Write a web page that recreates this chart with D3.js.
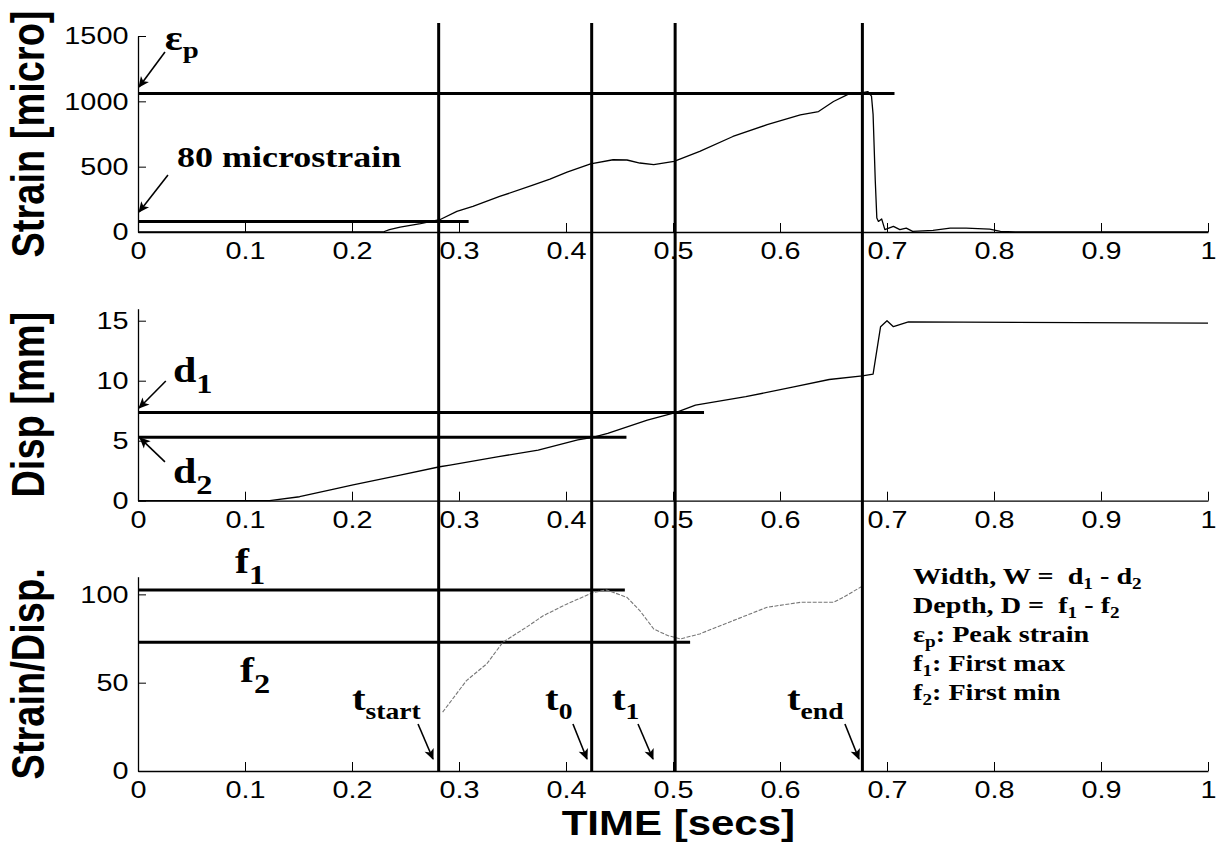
<!DOCTYPE html>
<html>
<head>
<meta charset="utf-8">
<script src="https://cdn.jsdelivr.net/npm/d3@7"></script>
<style>
  body { margin: 0; background: #fff; }
  text { white-space: pre; }
</style>
</head>
<body>
<div id="chart"></div>
<script>
// time axis shared by the three panels
const timeTicks = [0, 0.1, 0.2, 0.3, 0.4, 0.5, 0.6, 0.7, 0.8, 0.9, 1];

// strain gauge trace [micro]
const strainT = [0, 0.229, 0.235, 0.245, 0.264, 0.282, 0.298, 0.313, 0.338, 0.369, 0.385, 0.401, 0.423, 0.444, 0.457, 0.469, 0.482, 0.501, 0.525, 0.556, 0.588, 0.619, 0.636, 0.650, 0.664, 0.675, 0.682, 0.6855, 0.687, 0.689, 0.6905, 0.692, 0.695, 0.698, 0.706, 0.712, 0.718, 0.724, 0.743, 0.759, 0.774, 0.796, 0.806, 0.82, 1];
const strainV = [0, 0, 18, 38, 64, 94, 158, 196, 272, 358, 405, 458, 522, 553, 551, 528, 515, 540, 617, 731, 821, 897, 922, 999, 1055, 1063, 1075, 1040, 900, 400, 107, 81, 100, 18, 43, 18, 30, 5, 12, 30, 30, 22, 5, 0, 0];
const strainTicks = [0, 500, 1000, 1500];

// displacement trace [mm]
const dispT = [0, 0.123, 0.151, 0.182, 0.201, 0.245, 0.282, 0.2916, 0.337, 0.374, 0.411, 0.425, 0.439, 0.476, 0.503, 0.521, 0.568, 0.614, 0.646, 0.677, 0.687, 0.694, 0.700, 0.706, 0.720, 1];
const dispV = [0, 0, 0.33, 0.95, 1.31, 2.14, 2.83, 2.97, 3.67, 4.22, 5.06, 5.28, 5.61, 6.72, 7.36, 7.97, 8.67, 9.5, 10.1, 10.4, 10.55, 14.5, 15.0, 14.5, 14.9, 14.8];
const dispTicks = [0, 5, 10, 15];

// strain / displacement ratio
const ratioT = [0.2847, 0.307, 0.326, 0.341, 0.363, 0.379, 0.401, 0.4255, 0.438, 0.457, 0.469, 0.482, 0.495, 0.507, 0.525, 0.556, 0.588, 0.619, 0.650, 0.659, 0.676];
const ratioV = [33.3, 51.2, 60.7, 72.9, 81.4, 88, 94.6, 101.1, 102.5, 98.3, 90.8, 80.4, 76.7, 74.8, 77.6, 85.1, 92.7, 95.5, 95.5, 98.3, 104.3];
const ratioTicks = [0, 50, 100];

// event times t_start, t0, t1, t_end
const markerT = [0.281, 0.424, 0.502, 0.677];

// reference levels: value and the time where the line stops
const strainLevels = [[1060, 0.707], [80, 0.309]];
const dispLevels = [[7.35, 0.529], [5.28, 0.4565]];
const ratioLevels = [[102.5, 0.455], [72.9, 0.516]];

const width = 1219, height = 848;
const SX = 1.2; // the source figure is stretched horizontally
const sans = "'Liberation Sans', Arial, Helvetica, sans-serif";
const serif = "'Liberation Serif', 'Times New Roman', serif";

const svg = d3.select("#chart").append("svg")
    .attr("width", width)
    .attr("height", height)
    .style("background", "#fff");

const defs = svg.append("defs");
defs.append("marker")
    .attr("id", "arrow")
    .attr("viewBox", "0 0 10 10")
    .attr("refX", 9).attr("refY", 5)
    .attr("markerUnits", "userSpaceOnUse")
    .attr("markerWidth", 13).attr("markerHeight", 11)
    .attr("orient", "auto")
    .append("path")
    .attr("d", "M0,0.5 L10,5 L0,9.5 L2.5,5 Z")
    .attr("fill", "#000");

const x = d3.scaleLinear().domain([0, 1]).range([138, 1208]);
const yStrain = d3.scaleLinear().domain([0, 1500]).range([232, 36]);
const yDisp = d3.scaleLinear().domain([0, 16]).range([500.7, 308.7]);
const yRatio = d3.scaleLinear().domain([0, 110]).range([771, 576.7]);

const panels = [
    { y: yStrain, ticks: strainTicks, label: "Strain [micro]", t: strainT, v: strainV, levels: strainLevels, stroke: "#000", sw: 1.3, dash: null },
    { y: yDisp, ticks: dispTicks, label: "Disp [mm]", t: dispT, v: dispV, levels: dispLevels, stroke: "#000", sw: 1.3, dash: null },
    { y: yRatio, ticks: ratioTicks, label: "Strain/Disp.", t: ratioT, v: ratioV, levels: ratioLevels, stroke: "#777", sw: 1.1, dash: "4,1.5" }
];

const fmt = d3.format("~g");

panels.forEach(p => {
    const g = svg.append("g");

    // x axis (ticks point inward)
    const gx = g.append("g")
        .attr("transform", `translate(0,${p.y(0)})`)
        .call(d3.axisBottom(x).tickValues(timeTicks).tickFormat(fmt)
            .tickSizeInner(-9).tickSizeOuter(0).tickPadding(10));
    // y axis
    const gy = g.append("g")
        .attr("transform", `translate(${x(0)},0)`)
        .call(d3.axisLeft(p.y).tickValues(p.ticks).tickFormat(fmt)
            .tickSizeInner(-8).tickSizeOuter(0).tickPadding(8));

    [gx, gy].forEach(a => {
        a.attr("font-family", sans).attr("font-size", 24);
        a.select(".domain").attr("stroke", "#000").attr("stroke-width", 1.3);
        a.selectAll(".tick line").attr("stroke", "#000").attr("stroke-width", 1);
        a.selectAll(".tick text").attr("fill", "#000").attr("transform", `scale(${SX},1)`);
    });

    // y label
    const [y0, y1] = p.y.range();
    g.append("text")
        .attr("transform", `translate(44,${(y0 + y1) / 2}) scale(${SX},1) rotate(-90)`)
        .attr("text-anchor", "middle")
        .attr("font-family", sans)
        .attr("font-size", 38)
        .attr("font-weight", "bold")
        .text(p.label);

    // reference levels
    g.selectAll(".level")
        .data(p.levels)
        .join("line")
        .attr("x1", x(0)).attr("x2", d => x(d[1]))
        .attr("y1", d => p.y(d[0])).attr("y2", d => p.y(d[0]))
        .attr("stroke", "#000").attr("stroke-width", 3);

    // trace
    const line = d3.line().x(i => x(p.t[i])).y(i => p.y(p.v[i]));
    g.append("path")
        .attr("d", line(d3.range(p.t.length)))
        .attr("fill", "none")
        .attr("stroke", p.stroke)
        .attr("stroke-width", p.sw)
        .attr("stroke-dasharray", p.dash)
        .attr("stroke-linejoin", "round");
});

// event lines through all panels
svg.append("g").selectAll("line")
    .data(markerT)
    .join("line")
    .attr("x1", d => x(d)).attr("x2", d => x(d))
    .attr("y1", yStrain(1600)).attr("y2", yRatio(0))
    .attr("stroke", "#000").attr("stroke-width", 3);

svg.append("text")
    .attr("transform", `translate(${x(0.505)},835) scale(${SX},1)`)
    .attr("text-anchor", "middle")
    .attr("font-family", sans)
    .attr("font-size", 35)
    .attr("font-weight", "bold")
    .text("TIME [secs]");

// annotation labels: [scale, t, value, parts, size, subSize, subShift]
const notes = [
    [yStrain, 0.025, 1393, [["ε"], ["p", 1]], 35, 24, 8],
    [yStrain, 0.0364, 497, [["80 microstrain"]], 30, 20, 0],
    [yDisp, 0.0327, 9.89, [["d"], ["1", 1]], 35, 27, 11],
    [yDisp, 0.0327, 1.48, [["d"], ["2", 1]], 35, 27, 11],
    [yRatio, 0.0907, 112, [["f"], ["1", 1]], 35, 27, 11],
    [yRatio, 0.0953, 50.4, [["f"], ["2", 1]], 35, 27, 11],
    [yRatio, 0.2, 34.5, [["t"], ["start", 1]], 34, 23, 9],
    [yRatio, 0.3804, 34.5, [["t"], ["0", 1]], 34, 23, 9],
    [yRatio, 0.443, 34.5, [["t"], ["1", 1]], 34, 23, 9],
    [yRatio, 0.6065, 34.5, [["t"], ["end", 1]], 34, 23, 9]
];

function richText(sel, parts, size, subSize, shift) {
    let sub = false;
    parts.forEach(([s, isSub]) => {
        const ts = sel.append("tspan").text(s);
        if (isSub && !sub) ts.attr("font-size", subSize).attr("dy", shift);
        else if (!isSub && sub) ts.attr("font-size", size).attr("dy", -shift);
        else if (isSub) ts.attr("font-size", subSize);
        sub = !!isSub;
    });
}

notes.forEach(([ys, t, v, parts, size, subSize, shift]) => {
    const txt = svg.append("text")
        .attr("transform", `translate(${x(t)},${ys(v)}) scale(${SX},1)`)
        .attr("font-family", serif)
        .attr("font-weight", "bold")
        .attr("font-size", size);
    richText(txt, parts, size, subSize, shift);
});

// arrows: [scale, from t, from v, to t, to v]
const arrows = [
    [yStrain, 0.0252, 1378, 0.001, 1110],
    [yStrain, 0.028, 436, 0.001, 153],
    [yDisp, 0.026, 9.98, 0.001, 7.72],
    [yDisp, 0.0252, 3.23, 0.002, 5.22],
    [yRatio, 0.2617, 26.6, 0.2757, 6.8],
    [yRatio, 0.4065, 26.6, 0.4196, 6.8],
    [yRatio, 0.4673, 26.6, 0.4813, 6.8],
    [yRatio, 0.6607, 26.6, 0.6738, 6.8]
];

svg.append("g").selectAll("line")
    .data(arrows)
    .join("line")
    .attr("x1", d => x(d[1])).attr("y1", d => d[0](d[2]))
    .attr("x2", d => x(d[3])).attr("y2", d => d[0](d[4]))
    .attr("stroke", "#000").attr("stroke-width", 1.6)
    .attr("marker-end", "url(#arrow)");

// definitions box on the right
const legendLines = [
    [["Width, W =  d"], ["1", 1], [" - d"], ["2", 1]],
    [["Depth, D =  f"], ["1", 1], [" - f"], ["2", 1]],
    [["ε"], ["p", 1], [": Peak strain"]],
    [["f"], ["1", 1], [": First max"]],
    [["f"], ["2", 1], [": First min"]]
];

legendLines.forEach((parts, i) => {
    const txt = svg.append("text")
        .attr("transform", `translate(${x(0.7243)},${yRatio(105.9) + i * 29}) scale(${SX},1)`)
        .attr("font-family", serif)
        .attr("font-weight", "bold")
        .attr("font-size", 23.5);
    richText(txt, parts, 23.5, 16, 5);
});
</script>
</body>
</html>
